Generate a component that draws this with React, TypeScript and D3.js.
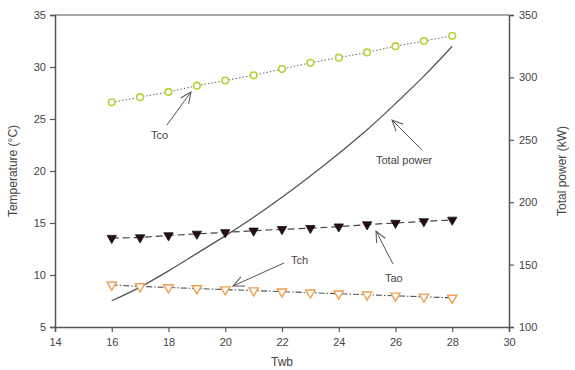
import React, { useEffect, useRef } from 'react';
import * as d3 from 'd3';

const twb = [16, 17, 18, 19, 20, 21, 22, 23, 24, 25, 26, 27, 28];
const tco = [26.6, 27.1, 27.6, 28.2, 28.7, 29.2, 29.8, 30.4, 30.9, 31.4, 32.0, 32.5, 33.0];
const tao = [13.55, 13.6, 13.8, 13.95, 14.1, 14.25, 14.4, 14.5, 14.65, 14.85, 15.0, 15.15, 15.3];
const tch = [9.05, 8.9, 8.8, 8.7, 8.6, 8.5, 8.4, 8.3, 8.2, 8.1, 8.0, 7.9, 7.8];
const totalPower = [121, 132, 145, 159, 173, 188, 204, 221, 239, 258, 279, 301, 325];

const xTicks = [14, 16, 18, 20, 22, 24, 26, 28, 30];
const yTicks = [5, 10, 15, 20, 25, 30, 35];
const y2Ticks = [100, 150, 200, 250, 300, 350];

const App = () => {
  const ref = useRef(null);

  useEffect(() => {
    const W = 575, H = 370;
    const margin = { top: 15, right: 66, bottom: 43, left: 55 };
    const width = W - margin.left - margin.right;
    const height = H - margin.top - margin.bottom;
    const font = 'Liberation Sans, Arial, sans-serif';
    const axisColor = '#555';
    const textColor = '#444';

    const root = d3.select(ref.current);
    root.selectAll('*').remove();
    const svg = root.append('svg')
      .attr('width', W)
      .attr('height', H)
      .style('display', 'block')
      .style('background', '#fff');

    const defs = svg.append('defs');
    defs.append('marker')
      .attr('id', 'arr')
      .attr('viewBox', '0 0 12 12')
      .attr('refX', 11).attr('refY', 6)
      .attr('markerWidth', 12).attr('markerHeight', 12)
      .attr('markerUnits', 'userSpaceOnUse')
      .attr('orient', 'auto')
      .append('path')
      .attr('d', 'M0,1 L11,6 L0,11')
      .attr('fill', 'none')
      .attr('stroke', '#555')
      .attr('stroke-width', 1);

    const g = svg.append('g').attr('transform', `translate(${margin.left},${margin.top})`);

    const x = d3.scaleLinear().domain([14, 30]).range([0, width]);
    const y = d3.scaleLinear().domain([5, 35]).range([height, 0]);
    const y2 = d3.scaleLinear().domain([100, 350]).range([height, 0]);

    // frame
    g.append('line').attr('x1', 0).attr('x2', width).attr('y1', 0).attr('y2', 0)
      .attr('stroke', axisColor).attr('stroke-width', 1.2);

    const styleAxis = (sel) => {
      sel.select('.domain').attr('stroke', axisColor).attr('stroke-width', 1.5);
      sel.selectAll('.tick line').attr('stroke', axisColor).attr('stroke-width', 1.2);
      sel.selectAll('.tick text').attr('fill', textColor).style('font-family', font).style('font-size', '11px');
    };

    g.append('g').attr('transform', `translate(0,${height})`)
      .call(d3.axisBottom(x).tickValues(xTicks).tickSizeOuter(0).tickSize(5).tickPadding(6))
      .call(styleAxis);
    g.append('g')
      .call(d3.axisLeft(y).tickValues(yTicks).tickSizeOuter(0).tickSize(5).tickPadding(4))
      .call(styleAxis);
    g.append('g').attr('transform', `translate(${width},0)`)
      .call(d3.axisRight(y2).tickValues(y2Ticks).tickSizeOuter(0).tickSize(5).tickPadding(5))
      .call(styleAxis);

    // axis titles
    svg.append('text')
      .attr('transform', `translate(17,${margin.top + height / 2}) rotate(-90)`)
      .attr('text-anchor', 'middle')
      .attr('fill', textColor).style('font-family', font).style('font-size', '12px')
      .text('Temperature (°C)');
    svg.append('text')
      .attr('transform', `translate(566,${margin.top + height / 2}) rotate(-90)`)
      .attr('text-anchor', 'middle')
      .attr('fill', textColor).style('font-family', font).style('font-size', '12px')
      .text('Total power (kW)');
    svg.append('text')
      .attr('x', margin.left + x(22)).attr('y', 366)
      .attr('text-anchor', 'middle')
      .attr('fill', textColor).style('font-family', font).style('font-size', '12px')
      .text('Twb');

    const lineT = d3.line().x((d, i) => x(twb[i])).y(d => y(d));
    const lineP = d3.line().x((d, i) => x(twb[i])).y(d => y2(d)).curve(d3.curveMonotoneX);

    // total power
    g.append('path').datum(totalPower).attr('d', lineP)
      .attr('fill', 'none').attr('stroke', '#555').attr('stroke-width', 1.3);

    // Tco
    g.append('path').datum(tco).attr('d', lineT)
      .attr('fill', 'none').attr('stroke', '#666').attr('stroke-width', 1).attr('stroke-dasharray', '1.5 2');
    g.selectAll('.tco').data(tco).enter().append('circle')
      .attr('cx', (d, i) => x(twb[i])).attr('cy', d => y(d)).attr('r', 3.3)
      .attr('fill', '#fff').attr('stroke', '#b7d23a').attr('stroke-width', 1.6);

    // Tao
    g.append('path').datum(tao).attr('d', lineT)
      .attr('fill', 'none').attr('stroke', '#444').attr('stroke-width', 1.2).attr('stroke-dasharray', '7 4');
    const tri = d3.symbol().type(d3.symbolTriangle).size(38);
    g.selectAll('.tao').data(tao).enter().append('path')
      .attr('d', tri)
      .attr('transform', (d, i) => `translate(${x(twb[i])},${y(d)}) rotate(180)`)
      .attr('fill', '#2a0b12').attr('stroke', '#111').attr('stroke-width', 0.8);

    // Tch
    g.append('path').datum(tch).attr('d', lineT)
      .attr('fill', 'none').attr('stroke', '#555').attr('stroke-width', 1.1).attr('stroke-dasharray', '6 2 1.5 2');
    g.selectAll('.tch').data(tch).enter().append('path')
      .attr('d', tri)
      .attr('transform', (d, i) => `translate(${x(twb[i])},${y(d)}) rotate(180)`)
      .attr('fill', '#fff').attr('stroke', '#f0a050').attr('stroke-width', 1.4);

    // annotations
    const annots = [
      { text: 'Tco', tx: 151, ty: 139, x1: 167, y1: 125, x2: 191, y2: 92 },
      { text: 'Total power', tx: 376, ty: 164, x1: 422, y1: 150, x2: 392, y2: 120 },
      { text: 'Tch', tx: 291, ty: 264, x1: 284, y1: 263, x2: 233, y2: 286 },
      { text: 'Tao', tx: 385, ty: 282, x1: 393, y1: 264, x2: 376, y2: 231 },
    ];
    annots.forEach(a => {
      svg.append('line')
        .attr('x1', a.x1).attr('y1', a.y1).attr('x2', a.x2).attr('y2', a.y2)
        .attr('stroke', '#555').attr('stroke-width', 1)
        .attr('marker-end', 'url(#arr)');
      svg.append('text')
        .attr('x', a.tx).attr('y', a.ty)
        .attr('fill', textColor).style('font-family', font).style('font-size', '11px')
        .text(a.text);
    });

    return () => {
      d3.select(ref.current).selectAll('*').remove();
    };
  }, []);

  return (
    <div style={{ position: 'absolute', left: 0, top: 0, width: 575, height: 370 }}>
      <div ref={ref}></div>
    </div>
  );
};

export default App;
